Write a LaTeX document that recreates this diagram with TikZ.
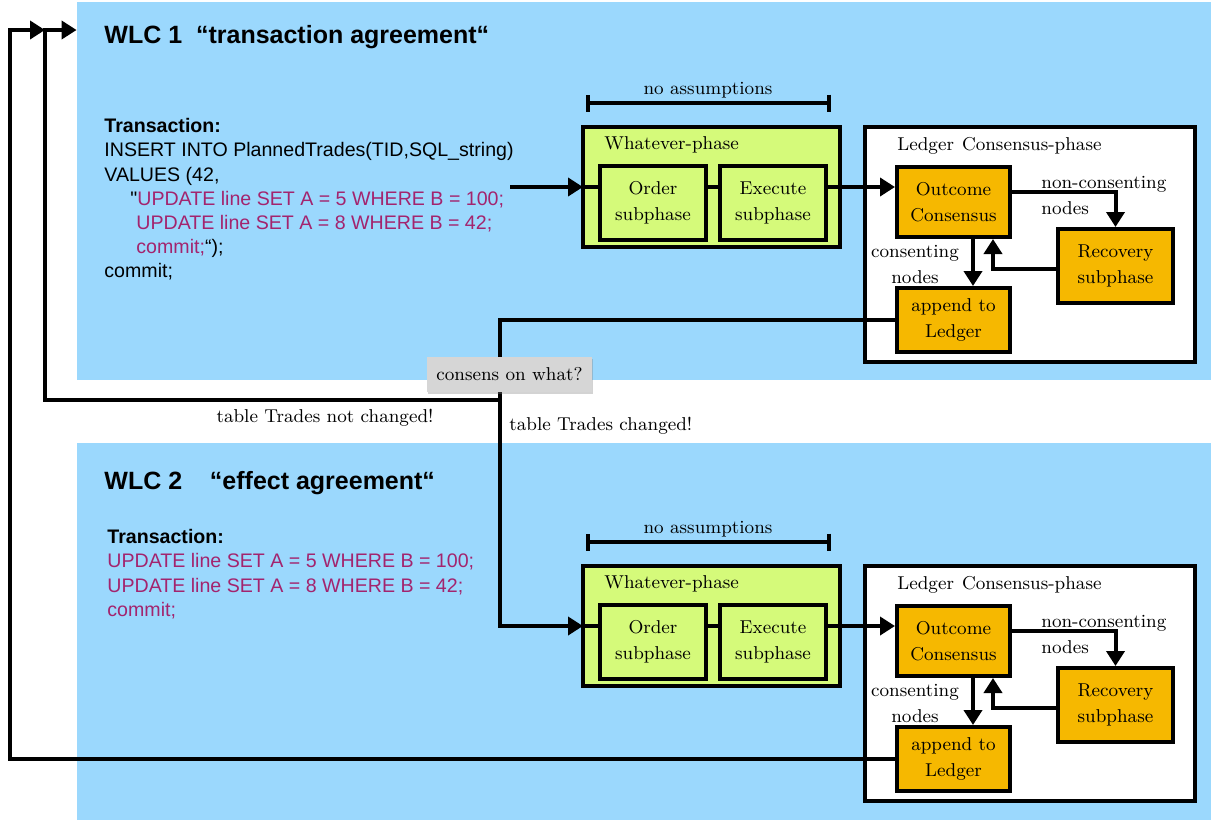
\documentclass[tikz,border=0pt]{standalone}
\usepackage{fontspec}
\newfontfamily\arialfont{Liberation Sans}
\usetikzlibrary{arrows.meta,shadows}
\definecolor{wblue}{HTML}{9BD8FD}
\definecolor{wgreen}{HTML}{D5FA7A}
\definecolor{worange}{HTML}{F6B800}
\definecolor{wpurple}{HTML}{A3246E}
\definecolor{wgray}{HTML}{D6D6D6}
\newcommand\lblfont{\fontsize{9.3}{13}\selectfont}
\newcommand\sqlfont{\arialfont\fontsize{9.8}{12.1}\selectfont}
\newcommand\titlefont{\arialfont\bfseries\fontsize{12.5}{15}\selectfont}

\begin{document}
\begin{tikzpicture}[x=0.5pt,y=-0.5pt,
  sz/.style 2 args={minimum width=#1pt,minimum height=#2pt},
  panel/.style={fill=wblue,inner sep=0},
  phase/.style={draw,line width=2.4pt,fill=wgreen,inner sep=0},
  subbox/.style={draw,line width=2pt,fill=wgreen,inner sep=0,align=center,font=\lblfont},
  ledger/.style={draw,line width=2.2pt,fill=white,inner sep=0},
  obox/.style={draw,line width=2pt,fill=worange,inner sep=0,align=center,font=\lblfont},
  lbl/.style={inner sep=0,font=\lblfont},
  conn/.style={line width=2pt},
  arr/.style={conn,-{Triangle[length=7.5pt,width=9pt]}},
  sql/.style={inner sep=0,align=left,anchor=north west,font=\sqlfont}
  ]
\useasboundingbox (0,0) rectangle (1211,820);
\node[panel,sz={567}{189}] (P1) at (644,191){};
\node[panel,sz={567}{188.5}] (P2) at (644,631.5){};
% the two WLC panels
\foreach \p/\dy in {a/0,b/439}{
\begin{scope}[shift={(0,\dy)},name prefix=\p-]
\draw[conn,{Bar[width=8.5pt]}-{Bar[width=8.5pt]}] (586,103) -- (831,103);
\node[lbl] (na) at (708,90) {no assumptions};
\node[phase,sz={128.5}{60}] (W) at (711.5,187){};
\node[lbl,anchor=west] (wt) at (604,145) {Whatever-phase};
\node[subbox,sz={53}{37}] (O) at (653,203) {Order\\subphase};
\node[subbox,sz={53}{37}] (E) at (773,203) {Execute\\subphase};
\node[ledger,sz={165}{117.5}] (L) at (1030,244.5){};
\node[lbl,anchor=west] (lt) at (897,146) {Ledger\hspace{4pt}Consensus-phase};
\node[obox,sz={56.5}{35}] (C) at (953.5,202) {Outcome\\Consensus};
\node[obox,sz={57.5}{37}] (R) at (1115.5,266) {Recovery\\subphase};
\node[obox,sz={56.5}{32}] (A) at (953.5,320) {append to\\Ledger};
\coordinate (in) at (583,187);
\coordinate (out) at (840,187);
\draw[conn] (in) -- (O.west |- in);
\draw[conn] (O.east |- in) -- (E.west |- in);
\draw[conn] (E.east |- in) -- (out);
\draw[arr] (out) -- (C.west |- out);
\draw[arr] (C.east |- 0,192) -| (R.north);
\draw[arr] (C.south -| 973,0) -- (A.north -| 973,0);
\draw[arr] (R.west |- 0,269) -| (C.south -| 993,0);
\node[lbl,align=left,anchor=west] (nc) at (1041,195) {non-consenting\\nodes};
\node[lbl,align=center] (cn) at (915,264) {consenting\\nodes};
\end{scope}
}
% texts of the panels
\node[anchor=base west,inner sep=0,font=\titlefont] (t1) at (104,43) {WLC 1\ \ “transaction agreement“};
\node[sql] (s1) at (104,118) {\textbf{Transaction:}\\
INSERT INTO PlannedTrades(TID,SQL\_string)\\
VALUES (42,\\
\hspace*{13pt}"\textcolor{wpurple}{UPDATE line SET A = 5 WHERE B = 100;}\\
\hspace*{16pt}\textcolor{wpurple}{UPDATE line SET A = 8 WHERE B = 42;}\\
\hspace*{16pt}\textcolor{wpurple}{commit;}“);\\
commit;};
\node[anchor=base west,inner sep=0,font=\titlefont] (t2) at (104,489) {WLC 2\ \ \ \ “effect agreement“};
\node[sql,text=wpurple] (s2) at (107,529) {\textcolor{black}{\textbf{Transaction:}}\\
UPDATE line SET A = 5 WHERE B = 100;\\
UPDATE line SET A = 8 WHERE B = 42;\\
commit;};
% loops between the panels
\coordinate (s1e) at (510,187);
\coordinate (split) at (500,400);
\coordinate (k0) at (10,30);
\coordinate (k1) at (45,30);
\draw[arr] (s1e) -- (a-in);
\draw[arr] (a-A.west) -| (split) |- (b-in);
\draw[arr] (split) -| (k1) -- (P1.west |- k1);
\draw[arr] (b-A.west) -| (k0) -- (k1);
\node[fill=wgray,inner sep=0,sz={82.5}{17.5},font=\lblfont,
  drop shadow={opacity=0.35,shadow xshift=0.6pt,shadow yshift=-1.2pt}] (q) at (509.5,374.5) {consens on what?};
\node[lbl] (nch) at (325,418) {table Trades not changed!};
\node[lbl,anchor=west] (ch) at (509,426) {table Trades changed!};
\end{tikzpicture}
\end{document}
